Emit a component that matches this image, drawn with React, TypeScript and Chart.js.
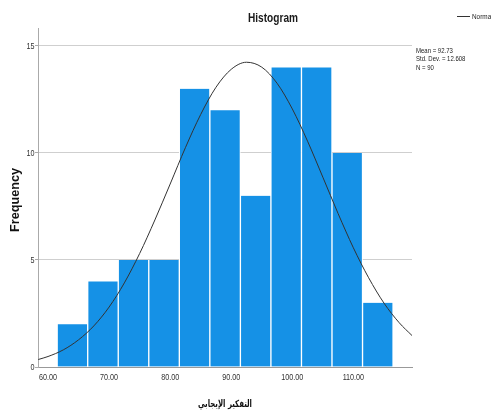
import React, { useEffect, useRef } from "react";
import { Chart, registerables } from "chart.js";

Chart.register(...registerables);

// Histogram bins (centers) and frequencies
const binCenters = [64, 69, 74, 79, 84, 89, 94, 99, 104, 109, 114];
const frequencies = [2, 4, 5, 5, 13, 12, 8, 14, 14, 10, 3];

// Normal curve points (Mean 92.73, SD 12.608, N 90)
const curveX = [58.4, 60, 62.5, 65, 67.5, 70, 72.5, 75, 77.5, 80, 82.5, 85, 87.5, 90, 92.5, 95, 97.5, 100, 102.5, 105, 107.5, 110, 112.5, 115, 117.5, 119.6];
const curveY = [0.35, 0.49, 0.8, 1.27, 1.92, 2.8, 3.93, 5.3, 6.87, 8.55, 10.25, 11.8, 13.07, 13.91, 14.24, 14.01, 13.26, 12.06, 10.55, 8.87, 7.17, 5.57, 4.17, 2.99, 2.07, 1.47];

const xTicks = [60, 70, 80, 90, 100, 110];
const yTicks = [0, 5, 10, 15];

const statsLines = ["Mean = 92.73", "Std. Dev. = 12.608", "N = 90"];
const titleText = "Histogram";
const xTitle = "التفكير الإيجابي";
const yTitle = "Frequency";
const legendText = "Normal";

const FONT = "'Liberation Sans', Arial, sans-serif";
const NARROW = 0.8;

function drawText(ctx: any, text: string, x: number, y: number, font: string, align: string, sx: number, width?: number) {
  ctx.save();
  ctx.font = font;
  let s = sx;
  if (width) s = width / ctx.measureText(text).width;
  ctx.translate(x, y);
  ctx.scale(s, 1);
  ctx.textAlign = align;
  ctx.textBaseline = "middle";
  ctx.fillText(text, 0, 0);
  ctx.restore();
}

const overlayPlugin = {
  id: "overlay",
  afterDraw(chart: any) {
    const ctx = chart.ctx;
    const area = chart.chartArea;
    const xs = chart.scales.x;
    const ys = chart.scales.y;
    ctx.save();
    ctx.fillStyle = "#333";
    // tick labels
    xTicks.forEach((v) => drawText(ctx, v.toFixed(2), xs.getPixelForValue(v), 377.5, `9px ${FONT}`, "center", NARROW));
    yTicks.forEach((v) => drawText(ctx, String(v), 34.5, ys.getPixelForValue(v) + 0.5, `9px ${FONT}`, "right", NARROW));
    // title
    ctx.fillStyle = "#1a1a1a";
    drawText(ctx, titleText, 273, 18, `bold 13px ${FONT}`, "center", 1, 50);
    // legend
    ctx.strokeStyle = "#333";
    ctx.lineWidth = 1;
    ctx.beginPath();
    ctx.moveTo(457, 16.5);
    ctx.lineTo(470, 16.5);
    ctx.stroke();
    ctx.fillStyle = "#222";
    drawText(ctx, legendText, 472, 16.5, `8px ${FONT}`, "left", NARROW);
    // stats
    statsLines.forEach((s, i) => drawText(ctx, s, 416, 50.5 + i * 8.7, `7.5px ${FONT}`, "left", NARROW));
    // y title
    ctx.save();
    ctx.translate(15, 200);
    ctx.rotate(-Math.PI / 2);
    ctx.fillStyle = "#111";
    drawText(ctx, yTitle, 0, 0, `bold 13px ${FONT}`, "center", 1, 64);
    ctx.restore();
    // x title
    ctx.fillStyle = "#111";
    drawText(ctx, xTitle, (area.left + area.right) / 2, 404, `bold 10px 'DejaVu Sans', ${FONT}`, "center", 1, 54);
    ctx.restore();
  },
};

export default function App() {
  const ref = useRef<HTMLCanvasElement>(null);
  useEffect(() => {
    document.body.style.margin = "0";
    const chart = new Chart(ref.current!, {
      type: "bar",
      data: {
        datasets: [
          {
            type: "line",
            data: curveX.map((x, i) => ({ x, y: curveY[i] })),
            borderColor: "#333",
            borderWidth: 1,
            pointRadius: 0,
            cubicInterpolationMode: "monotone",
            fill: false,
            order: 0,
          } as any,
          {
            type: "bar",
            data: binCenters.map((x, i) => ({ x, y: frequencies[i] })),
            backgroundColor: "#1591e6",
            borderColor: "#ffffff",
            borderWidth: { left: 1, right: 1, top: 0, bottom: 0 },
            borderSkipped: false,
            barPercentage: 1,
            categoryPercentage: 1,
            order: 1,
          } as any,
        ],
      },
      options: {
        responsive: false,
        animation: false,
        layout: { padding: { left: 0, right: 491 - 412, top: 28, bottom: 0 } },
        plugins: { legend: { display: false }, tooltip: { enabled: false }, title: { display: false } },
        scales: {
          x: {
            type: "linear",
            offset: false,
            min: 58.36,
            max: 119.6,
            afterFit: (s: any) => { s.height = 49; },
            afterBuildTicks: (s: any) => { s.ticks = xTicks.map((v) => ({ value: v })); },
            ticks: { display: false },
            grid: { display: false, drawTicks: false, offset: false },
            border: { color: "#999", width: 1 },
          },
          y: {
            type: "linear",
            min: 0,
            max: 15.84,
            afterFit: (s: any) => { s.width = 38; },
            afterBuildTicks: (s: any) => { s.ticks = yTicks.map((v) => ({ value: v })); },
            ticks: { display: false },
            grid: { color: "#cfcfcf", lineWidth: 1, drawTicks: true, tickLength: 3, tickColor: "#aaa" },
            border: { color: "#aaa", width: 1 },
          },
        },
      } as any,
      plugins: [overlayPlugin],
    });
    return () => chart.destroy();
  }, []);
  return (
    <div style={{ position: "absolute", left: 0, top: 0, width: 491, height: 416 }}>
      <canvas ref={ref} width={491} height={416} style={{ width: 491, height: 416 }} />
    </div>
  );
}
